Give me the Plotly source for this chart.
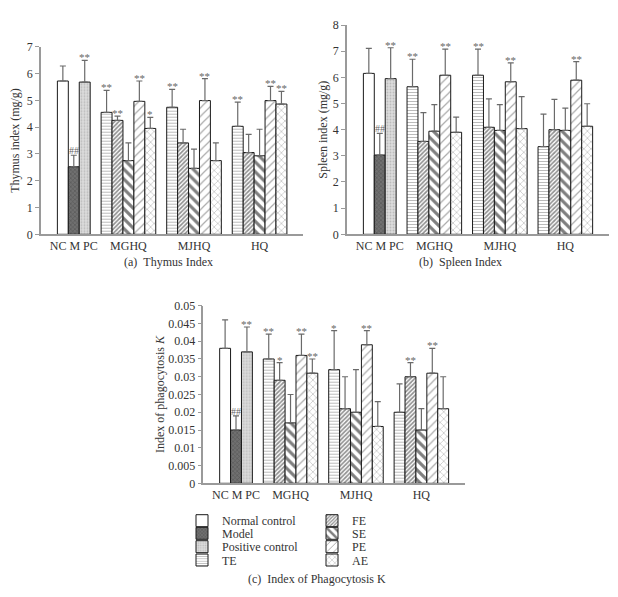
import plotly.graph_objects as go

# ---------------- data ----------------
control_names = ["Normal control", "Model", "Positive control"]
extract_names = ["TE", "FE", "SE", "PE", "AE"]
group_names = ["MGHQ", "MJHQ", "HQ"]
tick_labels = ["NC M PC", "MGHQ", "MJHQ", "HQ"]

# Thymus index (mg/g)
thymus_ctrl = [5.72, 2.52, 5.68]
thymus_ctrl_err = [0.56, 0.43, 0.81]
thymus_ctrl_sig = ["", "##", "**"]
thymus_ext = [[4.55, 4.74, 4.03], [4.25, 3.41, 3.05], [2.75, 2.46, 2.93],
              [4.96, 4.99, 4.99], [3.95, 2.75, 4.86]]
thymus_ext_err = [[0.82, 0.67, 0.90], [0.16, 0.51, 0.68], [0.66, 0.72, 0.99],
                  [0.76, 0.82, 0.53], [0.41, 0.66, 0.47]]
thymus_ext_sig = [["**", "**", "**"], ["**", "", ""], ["", "", ""],
                  ["**", "**", "**"], ["*", "", "**"]]

# Spleen index (mg/g)
spleen_ctrl = [6.15, 3.03, 5.95]
spleen_ctrl_err = [0.96, 0.83, 1.18]
spleen_ctrl_sig = ["", "##", "**"]
spleen_ext = [[5.64, 6.08, 3.35], [3.55, 4.09, 4.00], [3.94, 3.97, 3.97],
              [6.08, 5.83, 5.89], [3.90, 4.04, 4.13]]
spleen_ext_err = [[1.05, 1.00, 1.24], [1.10, 1.09, 1.16], [1.02, 0.99, 0.85],
                  [1.00, 0.72, 0.71], [0.58, 1.22, 0.86]]
spleen_ext_sig = [["**", "**", ""], ["", "", ""], ["", "", ""],
                  ["**", "**", "**"], ["", "", ""]]

# Index of phagocytosis K
phago_ctrl = [0.038, 0.015, 0.037]
phago_ctrl_err = [0.008, 0.004, 0.007]
phago_ctrl_sig = ["", "##", "**"]
phago_ext = [[0.035, 0.032, 0.020], [0.029, 0.021, 0.030], [0.017, 0.020, 0.015],
             [0.036, 0.039, 0.031], [0.031, 0.016, 0.021]]
phago_ext_err = [[0.007, 0.011, 0.008], [0.005, 0.009, 0.004], [0.008, 0.012, 0.006],
                 [0.006, 0.004, 0.007], [0.004, 0.007, 0.009]]
phago_ext_sig = [["**", "*", ""], ["*", "", "**"], ["", "", ""],
                 ["**", "**", "**"], ["**", "", ""]]

# ---------------- styles ----------------
FONT = "Liberation Serif"
TXT = "#333333"
AX = "#9a9a9a"

ctrl_styles = [
    dict(color="white"),
    dict(color="#707070", pattern=dict(shape="x", fgcolor="#3a3a3a", size=3, solidity=0.35)),
    dict(color="#dcdcdc", pattern=dict(shape=".", fgcolor="#9a9a9a", size=3, solidity=0.3)),
]
ext_styles = [
    dict(color="white", pattern=dict(shape="-", fgcolor="#777777", size=3, solidity=0.35)),
    dict(color="white", pattern=dict(shape="/", fgcolor="#222222", size=3, solidity=0.55)),
    dict(color="white", pattern=dict(shape="\\", fgcolor="#000000", size=7, solidity=0.45)),
    dict(color="white", pattern=dict(shape="/", fgcolor="#555555", size=6, solidity=0.2)),
    dict(color="white", pattern=dict(shape="x", fgcolor="#666666", size=5, solidity=0.22)),
]

# slot layout: controls at 0..2, then groups of 5 separated by one empty slot
CTRL_POS = list(range(len(control_names)))
GROUP_START = len(control_names) + 1
GROUP_STRIDE = len(extract_names) + 1
ext_pos = [[GROUP_START + GROUP_STRIDE * g + k for g in range(len(group_names))]
           for k in range(len(extract_names))]
tick_pos = [(len(control_names) - 1) / 2] + [
    GROUP_START + GROUP_STRIDE * g + (len(extract_names) - 1) / 2 for g in range(len(group_names))]

fig = go.Figure()

panels = [
    ("x", "y", thymus_ctrl, thymus_ctrl_err, thymus_ctrl_sig, thymus_ext, thymus_ext_err, thymus_ext_sig, False),
    ("x2", "y2", spleen_ctrl, spleen_ctrl_err, spleen_ctrl_sig, spleen_ext, spleen_ext_err, spleen_ext_sig, False),
    ("x3", "y3", phago_ctrl, phago_ctrl_err, phago_ctrl_sig, phago_ext, phago_ext_err, phago_ext_sig, True),
]

legend_keys = ["legend", "legend3", "legend5", "legend7", "legend2", "legend4", "legend6", "legend8"]
# order: NC, M, PC, TE (col 1) ; FE, SE, PE, AE (col 2)

annotations = []

for xa, ya, cv, ce, cs, ev, ee, es, show in panels:
    series = []
    for i, name in enumerate(control_names):
        series.append((name, [CTRL_POS[i]], [cv[i]], [ce[i]], [cs[i]], ctrl_styles[i]))
    for k, name in enumerate(extract_names):
        series.append((name, ext_pos[k], ev[k], ee[k], es[k], ext_styles[k]))
    for idx, (name, xs, vals, errs, sigs, st) in enumerate(series):
        marker = dict(color=st["color"], line=dict(color="#1a1a1a", width=1))
        if "pattern" in st:
            marker["pattern"] = dict(fillmode="overlay", bgcolor=st["color"], **st["pattern"])
        fig.add_trace(go.Bar(
            x=xs, y=vals, width=1, name=name, marker=marker,
            error_y=dict(type="data", array=errs, arrayminus=[0] * len(errs), symmetric=False,
                         color="#6a6a6a", thickness=1.2, width=3),
            xaxis=xa, yaxis=ya, showlegend=show,
            legend=legend_keys[idx] if show else None,
            hoverinfo="skip",
        ))
        for xx, vv, eev, s in zip(xs, vals, errs, sigs):
            if s:
                star = s.startswith("*")
                annotations.append(dict(
                    x=xx, y=vv + eev, xref=xa, yref=ya, text=s,
                    showarrow=False, yanchor="bottom", yshift=-4 if star else -2,
                    borderpad=0,
                    font=dict(family=FONT, size=11 if star else 10, color="#666666")))

# page body has an 8px margin, so the figure is offset by 8px inside the window
PAGE_OFF = 8
W, H = 618 - PAGE_OFF, 597 - PAGE_OFF

def fx(px):
    return (px - PAGE_OFF) / W

def fy(py):
    return (H - (py - PAGE_OFF)) / H

xcommon = dict(range=[-2, 22], tickvals=tick_pos, ticktext=tick_labels, ticks="",
               showline=True, linecolor=AX, linewidth=1.5, showgrid=False, zeroline=False,
               tickfont=dict(family=FONT, size=12, color=TXT), fixedrange=True, automargin=False)
ycommon = dict(ticks="outside", ticklen=4, tickcolor=AX, showline=True, linecolor=AX, linewidth=1.5,
               showgrid=False, zeroline=False, tickfont=dict(family=FONT, size=12, color=TXT),
               title_font=dict(family=FONT, size=12, color=TXT), fixedrange=True, automargin=False)

fig.update_layout(
    width=W, height=H, margin=dict(l=0, r=0, t=0, b=0, autoexpand=False),
    paper_bgcolor="white", plot_bgcolor="white", barmode="overlay",
    xaxis=dict(domain=[fx(41), fx(303.3)], anchor="y", **xcommon),
    yaxis=dict(domain=[fy(234.3), fy(46.7)], anchor="x", range=[0, 7], dtick=1,
               title=dict(text="Thymus index (mg/g)", standoff=5), **ycommon),
    xaxis2=dict(domain=[fx(347), fx(609)], anchor="y2", **xcommon),
    yaxis2=dict(domain=[fy(234.3), fy(25)], anchor="x2", range=[0, 8], dtick=1,
                title=dict(text="Spleen index (mg/g)", standoff=3), **ycommon),
    xaxis3=dict(domain=[fx(203.3), fx(465)], anchor="y3", **xcommon),
    yaxis3=dict(domain=[fy(483.3), fy(305.7)], anchor="x3", range=[0, 0.05], dtick=0.005,
                title=dict(text="Index of phagocytosis <i>K</i>", standoff=1), **ycommon),
)

# legends: two columns of four rows
row_y = [520.7, 533.3, 546.7, 560.0]
col_x = [182, 312]
legend_layout = {}
for idx, key in enumerate(legend_keys):
    col = 0 if idx < 4 else 1
    row = idx % 4
    legend_layout[key] = dict(x=fx(col_x[col]), y=fy(row_y[row]), xanchor="left", yanchor="middle",
                              bgcolor="rgba(0,0,0,0)", borderwidth=0,
                              font=dict(family=FONT, size=12, color=TXT))
fig.update_layout(**legend_layout)

captions = [("(a)\u00a0\u00a0Thymus Index", 168, 262), ("(b)\u00a0\u00a0Spleen Index", 460, 262),
            ("(c)\u00a0\u00a0Index of Phagocytosis K", 317, 579)]
for t, cx, cy in captions:
    annotations.append(dict(x=fx(cx), y=fy(cy), xref="paper", yref="paper", text=t, showarrow=False,
                            xanchor="center", yanchor="middle",
                            font=dict(family=FONT, size=12, color=TXT)))

fig.update_layout(annotations=annotations)
fig.write_html("out.html")
